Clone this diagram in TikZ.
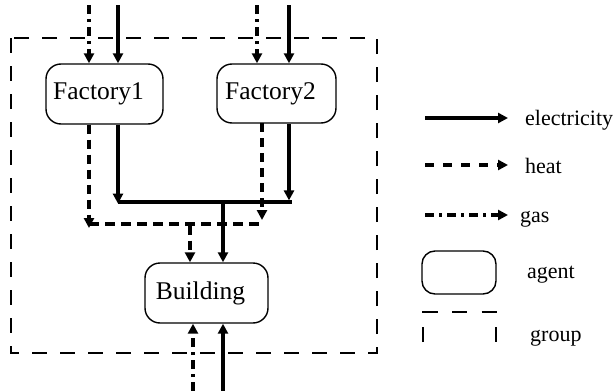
\documentclass[tikz,border=0pt]{standalone}
\usepackage{fontspec}
\setmainfont{Liberation Serif}
\usetikzlibrary{arrows.meta}

\tikzset{
  agent/.style={draw, line width=1.4pt, rounded corners=15pt, inner sep=0pt,
                font=\rmfamily\fontsize{25.5}{30}\selectfont},
  tip/.style={-{Triangle[length=10pt,width=10pt]}},
  elec/.style={line width=3.2pt, tip},
  elecbus/.style={line width=3.2pt},
  heat/.style={line width=3.2pt, dash pattern=on 9pt off 6pt, tip},
  heatbus/.style={line width=3.2pt, dash pattern=on 10pt off 6pt},
  gas/.style={line width=3.2pt, dash pattern=on 9pt off 5pt on 3pt off 5pt, tip},
  groupline/.style={line width=1.4pt, dash pattern=on 15pt off 13pt},
  legendtext/.style={anchor=base west, inner sep=0pt,
                     font=\rmfamily\fontsize{22}{26}\selectfont}
}

\begin{document}
\begin{tikzpicture}[x=1pt, y=-1pt]
\useasboundingbox (0,0) rectangle (614,391);

% group boundary
\draw[groupline] (11,38) rectangle (377,353);

% agents (labels sit a little left of centre)
\node[agent, minimum width=117pt, minimum height=60pt] (f1) at (104.5,94) {Factory1\kern12pt};
\node[agent, minimum width=119pt, minimum height=59pt] (f2) at (276.5,93.5) {Factory2\kern12pt};
\node[agent, minimum width=123pt, minimum height=60pt] (b) at (206.5,293) {Building\kern12pt};

% supply from above
\coordinate (g1in) at (89,5);
\coordinate (e1in) at (118,5);
\coordinate (g2in) at (257,5);
\coordinate (e2in) at (289,5);
\draw[gas]  (g1in) -- (g1in |- f1.north);
\draw[elec] (e1in) -- (e1in |- f1.north);
\draw[gas]  (g2in) -- (g2in |- f2.north);
\draw[elec] (e2in) -- (e2in |- f2.north);

% electricity bus
\coordinate (eb1) at (118,202);
\coordinate (eb2) at (292,202);
\coordinate (ebo) at (223,202);
\draw[elecbus] (eb1) -- (eb2);
\draw[elec] (eb1 |- f1.south) -- ([yshift=-1.6pt]eb1);
\draw[elec] (289,124) -- (289,200.4);
\draw[elec] (ebo) -- (ebo |- b.north);

% heat bus
\coordinate (hb1) at (89,224);
\coordinate (hb2) at (263,224);
\coordinate (hbo) at (190,224);
\draw[heatbus] (hb1) -- (hb2);
\draw[heat] (hb1 |- f1.south) -- ([yshift=-4pt]hb1);
\draw[heat] (262,123) -- (262,220);
\draw[heat] ([yshift=-1.6pt]hbo) -- (hbo |- b.north);

% supply from below
\coordinate (gbin) at (193,391);
\coordinate (ebin) at (223,391);
\draw[gas]  (gbin) -- (gbin |- b.south);
\draw[elec] (ebin) -- (ebin |- b.south);

% legend
\coordinate (l1a) at (425,118); \coordinate (l1b) at (508,118);
\coordinate (l2a) at (425,165); \coordinate (l2b) at (508,165);
\coordinate (l3a) at (425,215); \coordinate (l3b) at (508,215);
\draw[elec] (l1a) -- (l1b);
\draw[heat, dash pattern=on 9pt off 9pt] (l2a) -- (l2b);
\draw[gas]  (l3a) -- (l3b);
\node[legendtext] (t1) at (525,125) {electricity};
\node[legendtext] (t2) at (525,173) {heat};
\node[legendtext] (t3) at (520,222) {gas};

\node[agent, rounded corners=13pt, minimum width=74pt, minimum height=43pt] (la) at (459,272.5) {};
\node[legendtext] (t4) at (527,278) {agent};

\draw[line width=1.4pt, dash pattern=on 15pt off 14.5pt]
  (423,342) -- (423,312) -- (496,312) -- (496,342);
\node[legendtext] (t5) at (530,341) {group};
\end{tikzpicture}
\end{document}
